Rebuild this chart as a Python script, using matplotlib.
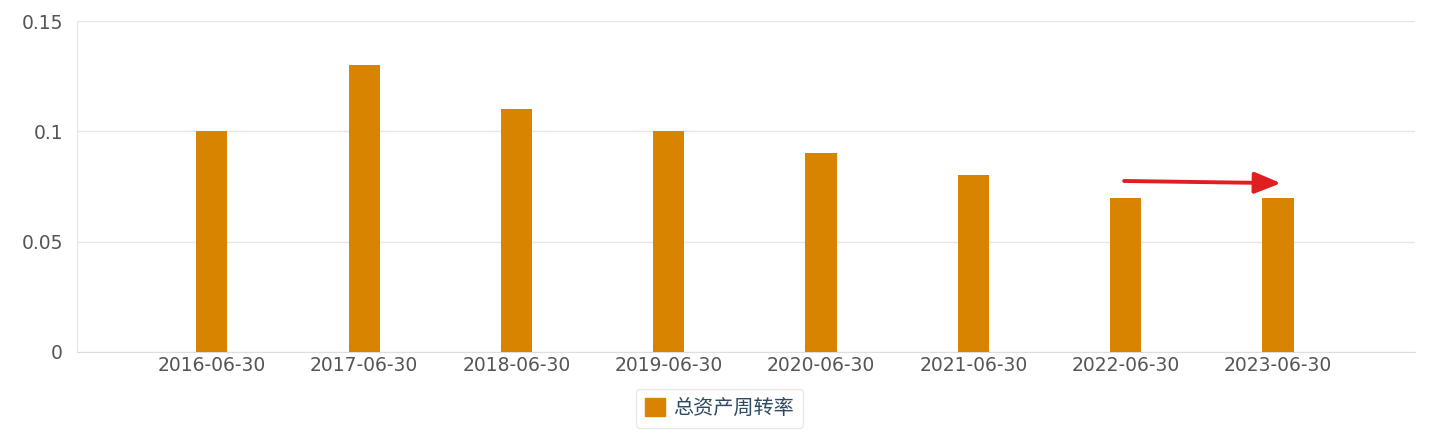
import numpy as np
import matplotlib
matplotlib.use("Agg")
import matplotlib.pyplot as plt
from matplotlib.patches import Patch

plt.rcParams['font.family'] = ['Noto Sans CJK SC', 'DejaVu Sans']

# 数据
dates = ['2016-06-30', '2017-06-30', '2018-06-30', '2019-06-30',
         '2020-06-30', '2021-06-30', '2022-06-30', '2023-06-30']
turnover = [0.10, 0.13, 0.11, 0.10, 0.09, 0.08, 0.07, 0.07]
yticks = [0, 0.05, 0.1, 0.15]
ytick_labels = ['0', '0.05', '0.1', '0.15']
series_name = '总资产周转率'

bar_color = '#D98400'
grid_color = '#E6E6E6'
text_color = '#555555'

fig = plt.figure(figsize=(14.3, 4.36), dpi=100)
ax = fig.add_axes([0.0538, 0.1927, 0.9357, 0.7591])

x = np.arange(len(dates))
ax.bar(x, turnover, width=0.205, color=bar_color, zorder=3)

ax.set_xlim(-0.886, 7.9)
ax.set_ylim(0, 0.15)
ax.set_yticks(yticks)
ax.set_yticklabels(ytick_labels)
ax.set_xticks(x)
ax.set_xticklabels(dates)

ax.grid(axis='y', color=grid_color, linewidth=1, zorder=0)
for s in ['top', 'right']:
    ax.spines[s].set_visible(False)
ax.spines['left'].set_color(grid_color)
ax.spines['bottom'].set_color('#DDDDDD')
ax.tick_params(axis='both', length=0, labelsize=13.5, colors=text_color,
               labelfontfamily='DejaVu Sans')
ax.tick_params(axis='y', pad=10)
ax.tick_params(axis='x', pad=3)

# 红色箭头
ax.annotate('', xy=(7.02, 0.0765), xytext=(5.99, 0.0775),
            arrowprops=dict(arrowstyle='-|>,head_length=1.6,head_width=0.65',
                            color='#E02020', lw=2.8, shrinkA=0, shrinkB=0),
            zorder=5)

handle = Patch(facecolor=bar_color, edgecolor=bar_color)
leg = fig.legend([handle], [series_name], loc='center', bbox_to_anchor=(0.503, 0.063),
                 frameon=True, fontsize=14.5, handlelength=1.0, handleheight=1.0,
                 handletextpad=0.4, borderpad=0.45, fancybox=True)
leg.get_frame().set_edgecolor('#E3E3E3')
leg.get_frame().set_linewidth(1)
for t in leg.get_texts():
    t.set_color('#2E4A62')

fig.savefig('out.png', dpi=100)
